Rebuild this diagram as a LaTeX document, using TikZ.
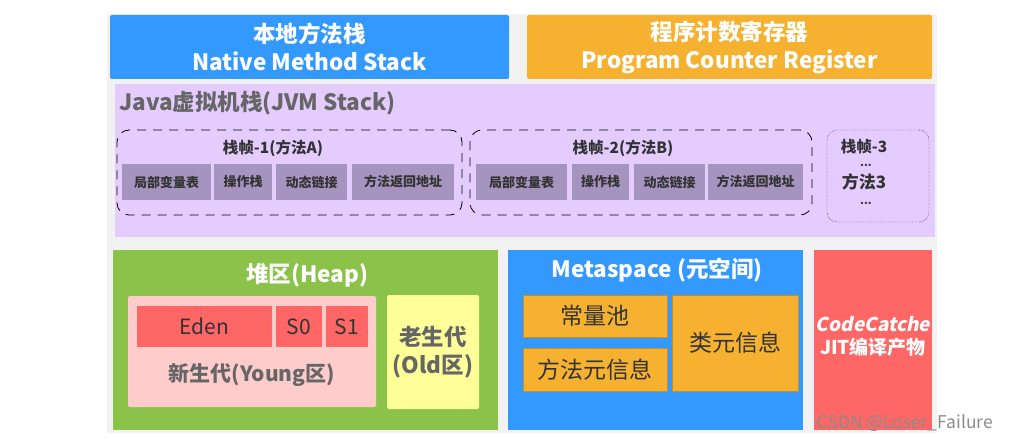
\documentclass[tikz,border=0pt]{standalone}
\usepackage{fontspec}
\setmainfont{Noto Sans CJK SC}
\newfontfamily\slantfont{Noto Sans CJK SC}[FakeSlant=0.2]
\definecolor{cblue}{HTML}{3399FF}
\definecolor{corange}{HTML}{F5B12F}
\definecolor{cbg}{HTML}{F2F2F2}
\definecolor{cpurple}{HTML}{E5CCFF}
\definecolor{cframe}{HTML}{A594C0}
\definecolor{cgreen}{HTML}{8BC34A}
\definecolor{cpink}{HTML}{FFCCCC}
\definecolor{cred}{HTML}{FF6666}
\definecolor{cyellow}{HTML}{FFFF99}
\definecolor{cgray}{HTML}{666666}
\definecolor{cdark}{HTML}{333333}
\definecolor{cwm}{HTML}{8C8C8C}
\tikzset{
  box/.style={inner sep=0pt, outer sep=0pt, draw=none, align=center},
  topbox/.style={box, rounded corners=2pt, text=white, font=\fontsize{22.5}{28}\selectfont\bfseries},
  framebox/.style={box, draw=black, thick, rounded corners=12pt, dash pattern=on 9pt off 7pt},
  cellbox/.style={box, fill=cframe, minimum height=36pt, text=cdark, font=\fontsize{13}{15}\selectfont\bfseries},
  ftitle/.style={inner sep=0pt, text=cdark, font=\fontsize{15.5}{18}\selectfont\bfseries},
  dots/.style={inner sep=0pt, text=cdark, font=\fontsize{11}{11}\selectfont\bfseries},
  bigtitle/.style={inner sep=0pt, text=white, font=\fontsize{22.5}{26}\selectfont\bfseries},
  metacell/.style={box, fill=corange, draw=corange!80!black, very thin, text=cdark, font=\fontsize{23}{28}\selectfont},
  redcell/.style={box, fill=cred, minimum height=41pt, text=cdark, font=\fontsize{21}{24}\selectfont},
}
\begin{document}
\begin{tikzpicture}[x=1pt,y=-1pt]
\useasboundingbox (0,0) rectangle (1012,441);
\fill[white] (0,0) rectangle (1012,441);
\node[box, fill=cbg, minimum width=830pt, minimum height=419pt] (bg) at (522,223.5) {};
% top boxes
\node[topbox, fill=cblue, minimum width=399pt, minimum height=64pt] (native) at (309.5,47) {本地方法栈\\Native Method Stack};
\node[topbox, fill=corange, minimum width=405pt, minimum height=64pt] (pcr) at (729.5,47) {程序计数寄存器\\Program Counter Register};
% JVM stack
\node[box, fill=cpurple, minimum width=820pt, minimum height=153pt] (jvm) at (525,160.5) {};
\node[inner sep=0pt, anchor=west, text=cgray, font=\fontsize{22.5}{26}\selectfont\bfseries] (jvmtitle) at (119,103) {Java虚拟机栈(JVM Stack)};
% frame 1
\node[framebox, minimum width=345pt, minimum height=85pt] (f1) at (289.5,172.5) {};
\node[ftitle] (f1t) at (273,148) {栈帧-1(方法A)};
\node[cellbox, minimum width=89pt] (a1) at (166.5,182) {局部变量表};
\node[cellbox, minimum width=58pt] (a2) at (243,182) {操作栈};
\node[cellbox, minimum width=71pt] (a3) at (311.5,182) {动态链接};
\node[cellbox, minimum width=102pt] (a4) at (403,182) {方法返回地址};
% frame 2
\node[framebox, minimum width=342pt, minimum height=85pt] (f2) at (641,172.5) {};
\node[ftitle] (f2t) at (623,148) {栈帧-2(方法B)};
\node[cellbox, minimum width=91pt] (b1) at (521.5,182) {局部变量表};
\node[cellbox, minimum width=57pt] (b2) at (600.5,182) {操作栈};
\node[cellbox, minimum width=71pt] (b3) at (669.5,182) {动态链接};
\node[cellbox, minimum width=95pt] (b4) at (755.5,182) {方法返回地址};
% frame 3
\node[box, draw=black, densely dotted, rounded corners=10pt, minimum width=102pt, minimum height=92pt] (f3) at (878,176) {};
\node[ftitle] (f3t) at (864,147) {栈帧-3};
\node[dots] (f3d1) at (866,165) {...};
\node[ftitle, font=\fontsize{17}{20}\selectfont\bfseries] (f3m) at (864,182) {方法3};
\node[dots] (f3d2) at (866,203) {...};
% heap
\node[box, fill=cgreen, minimum width=385pt, minimum height=180pt] (heap) at (305.5,340) {};
\node[bigtitle] (heapt) at (307,275) {堆区(Heap)};
\node[box, fill=cpink, rounded corners=2pt, minimum width=248pt, minimum height=111pt] (young) at (252,351.5) {};
\node[redcell, minimum width=135pt] (eden) at (204.5,326.5) {Eden};
\node[redcell, minimum width=46pt] (s0) at (299,326.5) {S0};
\node[redcell, minimum width=42pt] (s1) at (347,326.5) {S1};
\node[inner sep=0pt, text=cgray, font=\fontsize{21}{24}\selectfont\bfseries] (youngt) at (252,375) {新生代(Young区)};
\node[box, fill=cyellow, rounded corners=2pt, minimum width=92pt, minimum height=114pt, text=cgray, font=\fontsize{22.5}{28}\selectfont\bfseries] (old) at (433,352) {老生代\\(Old区)};
% metaspace
\node[box, fill=cblue, minimum width=295pt, minimum height=180pt] (meta) at (655.5,340) {};
\node[bigtitle] (metat) at (657,270) {Metaspace (元空间)};
\node[metacell, minimum width=144pt, minimum height=42pt] (cpool) at (595,316) {常量池};
\node[metacell, minimum width=144pt, minimum height=43pt] (mmeta) at (595,369.5) {方法元信息};
\node[metacell, minimum width=126pt, minimum height=96pt] (cmeta) at (735,343) {类元信息};
% code cache
\node[box, fill=cred, minimum width=118pt, minimum height=180pt] (code) at (873,340) {};
\node[inner sep=0pt, align=center, text=white, font=\fontsize{19}{23}\selectfont\bfseries] (codet) at (873,336) {{\slantfont\bfseries CodeCatche}\\JIT编译产物};
\node[inner sep=0pt, text=cwm, font=\fontsize{17.5}{20}\selectfont] (wm) at (905,423) {CSDN @Loser\_Failure};
\end{tikzpicture}
\end{document}
